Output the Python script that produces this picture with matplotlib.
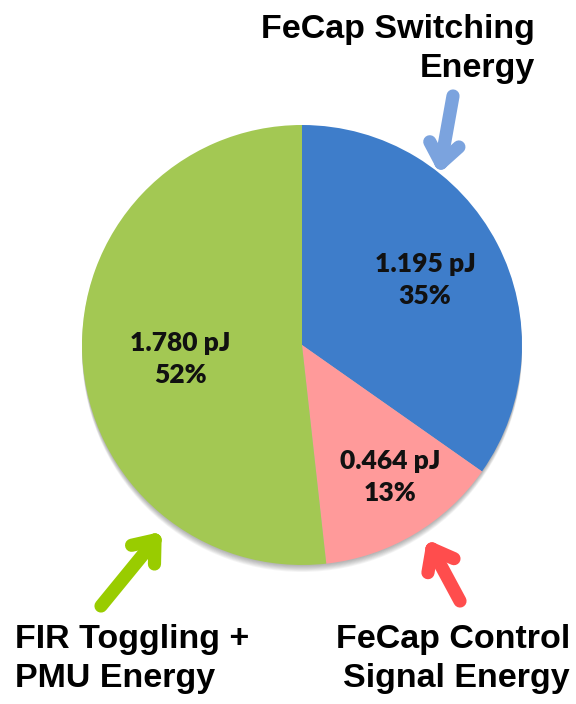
import numpy as np
import matplotlib.pyplot as plt
from matplotlib.patches import Circle

# energy breakdown per operation
parts = ['FeCap Switching\nEnergy', 'FeCap Control\nSignal Energy', 'FIR Toggling +\nPMU Energy']
energy_pj = [1.195, 0.464, 1.780]
pcts = [35, 13, 52]
colors = ['#3E7DCA', '#FF9A9A', '#A3C853']
arrow_colors = ['#7BA3DE', '#FF4D4D', '#99CC00']

W, H = 576, 704
fig = plt.figure(figsize=(W / 100, H / 100), dpi=100)
ax = fig.add_axes([0, 0, 1, 1])

cx, cy, r = 302, H - 345, 220

# soft drop shadow, only visible along the lower rim
for d in np.linspace(1, 7, 8):
    ax.add_patch(Circle((cx, cy - d), r, color='#000000', alpha=0.04, lw=0, zorder=0))

wedges, _ = ax.pie(energy_pj, colors=colors, startangle=90, counterclock=False,
                   center=(cx, cy), radius=r, frame=True,
                   wedgeprops=dict(linewidth=0))
ax.set_xlim(0, W)
ax.set_ylim(0, H)
ax.set_aspect('equal')
ax.axis('off')

lab_pos = [(425, 280), (390, 477), (180, 359)]
for (x, y), e, p in zip(lab_pos, energy_pj, pcts):
    ax.text(x, H - y, f'{e:.3f} pJ\n{p}%', ha='center', va='center',
            fontsize=19, fontweight='heavy', family='Lato', linespacing=1.4,
            color='#111111')

# outer captions
cap = dict(fontsize=24.5, fontweight='bold', family='Liberation Sans', linespacing=1.3)
ax.text(535, H - 49, parts[0], ha='right', va='center', **cap)
ax.text(570, H - 659, parts[1], ha='right', va='center', **cap)
ax.text(15, H - 659, parts[2], ha='left', va='center', **cap)


def chevron_arrow(tail, tip, color, head=24, ang=38):
    tx, ty = tail[0], H - tail[1]
    px, py = tip[0], H - tip[1]
    kw = dict(color=color, lw=9.5, solid_capstyle='round', solid_joinstyle='round')
    ax.plot([tx, px], [ty, py], **kw)
    back = np.arctan2(ty - py, tx - px)
    for s in (-1, 1):
        a = back + s * np.radians(ang)
        ax.plot([px, px + head * np.cos(a)], [py, py + head * np.sin(a)], **kw)


chevron_arrow((453, 96), (441, 163), arrow_colors[0])
chevron_arrow((460, 601), (432, 549), arrow_colors[1])
chevron_arrow((101, 606), (155, 540), arrow_colors[2])

fig.savefig('out.png', dpi=100)
